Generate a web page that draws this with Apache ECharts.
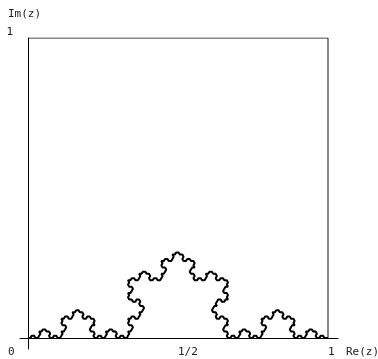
<!DOCTYPE html>
<html>
<head>
<meta charset="utf-8">
<script src="https://cdn.jsdelivr.net/npm/echarts@6/dist/echarts.min.js"></script>
<style>html,body{margin:0;padding:0;background:#fff;}#c{width:378px;height:359px;}</style>
</head>
<body>
<div id="c"></div>
<script>
// Koch curve: initiator segment and generator turns (degrees), iteration depth
const initiator = [[0, 0], [1, 0]];
const generatorTurns = [60, -120, 60];
const depth = 5;
const xTickValues = [0.5, 1];
const xTickLabels = ['1/2', '1'];
const yTickValues = [1];
const yTickLabels = ['1'];
const boxCorners = [[0, 1], [1, 1], [1, 0]];

function kochPoints() {
  let turns = [];
  for (let d = 0; d < depth; d++) {
    const next = [];
    const segs = turns.length + 1;
    for (let i = 0; i < segs; i++) {
      next.push(...generatorTurns);
      if (i < turns.length) next.push(turns[i]);
    }
    turns = next;
  }
  const len = (initiator[1][0] - initiator[0][0]) / Math.pow(3, depth);
  const pts = [initiator[0].slice()];
  let ang = 0, x = initiator[0][0], y = initiator[0][1];
  for (let i = 0; i <= turns.length; i++) {
    x += len * Math.cos(ang * Math.PI / 180);
    y += len * Math.sin(ang * Math.PI / 180);
    pts.push([x, y]);
    if (i < turns.length) ang += turns[i];
  }
  return pts;
}

const font = 'DejaVu Sans Mono';
const fs = 11;
const chart = echarts.init(document.getElementById('c'), null, {renderer: 'canvas'});
chart.setOption({
  animation: false,
  backgroundColor: '#fff',
  grid: {left: 20, right: 40, top: 38, bottom: 10, containLabel: false, outerBoundsMode: 'none'},
  xAxis: {
    type: 'value', min: -8 / 300, max: 1 + 10 / 300,
    splitLine: {show: false}, axisTick: {show: false},
    axisLine: {onZero: true, lineStyle: {color: '#000', width: 1}},
    axisLabel: {
      customValues: xTickValues, align: 'left', margin: -2,
      fontFamily: font, fontSize: fs, color: '#222',
      formatter: v => xTickLabels[xTickValues.indexOf(v)] || ''
    }
  },
  yAxis: {
    type: 'value', min: -11 / 300, max: 1,
    splitLine: {show: false}, axisTick: {show: false},
    axisLine: {onZero: true, lineStyle: {color: '#000', width: 1}},
    axisLabel: {
      customValues: yTickValues, margin: 7, verticalAlign: 'bottom',
      fontFamily: font, fontSize: fs, color: '#222',
      formatter: v => yTickLabels[yTickValues.indexOf(v)] || ''
    }
  },
  graphic: [
    {type: 'text', left: 8, top: 347, style: {text: '0', font: fs + 'px ' + font, fill: '#222'}},
    {type: 'text', left: 346, top: 347, style: {text: 'Re(z)', font: fs + 'px ' + font, fill: '#222'}},
    {type: 'text', left: 8, top: 9, style: {text: 'Im(z)', font: fs + 'px ' + font, fill: '#222'}}
  ],
  series: [
    {type: 'line', data: boxCorners, showSymbol: false, silent: true,
     lineStyle: {color: '#111', width: 1}},
    {type: 'line', data: kochPoints(), showSymbol: false, silent: true,
     lineStyle: {color: '#000', width: 2}}
  ]
});
</script>
</body>
</html>
